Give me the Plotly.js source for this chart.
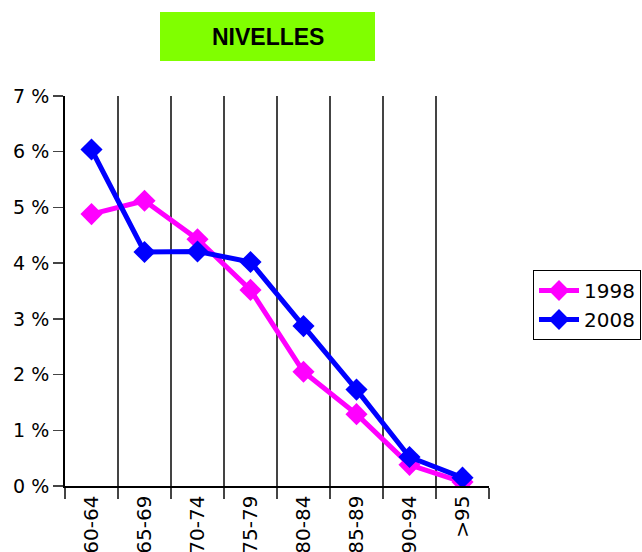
<!DOCTYPE html>
<html><head><meta charset="utf-8">
<script src="https://cdn.plot.ly/plotly-3.0.1.min.js"></script>
<style>html,body{margin:0;padding:0;background:#fff;}</style>
</head><body>
<div id="chart" style="width:642px;height:552px;"></div>
<script>
var categories = ["60-64","65-69","70-74","75-79","80-84","85-89","90-94",">95"];
var values1998 = [4.88, 5.12, 4.43, 3.52, 2.05, 1.29, 0.38, 0.07];
var values2008 = [6.04, 4.20, 4.21, 4.02, 2.87, 1.73, 0.52, 0.15];
var seriesNames = ["1998", "2008"];
var chartTitle = "NIVELLES";

var L = 65, R = 153, T = 96, B = 66, W = 642, H = 552;
var pw = W - L - R, ph = H - T - B;
function px(x){ return (x - L) / pw; }
function py(y){ return (H - B - y) / ph; }

var traces = [
  {x: categories, y: values1998, name: seriesNames[0], type: "scatter", mode: "lines+markers",
   line: {color: "#ff00ff", width: 5}, marker: {symbol: "diamond", size: 17, color: "#ff00ff"}},
  {x: categories, y: values2008, name: seriesNames[1], type: "scatter", mode: "lines+markers",
   line: {color: "#0000ff", width: 5}, marker: {symbol: "diamond", size: 17, color: "#0000ff"}}
];

var layout = {
  width: W, height: H,
  margin: {l: L, r: R, t: T, b: B, pad: 0, autoexpand: false},
  paper_bgcolor: "#fff", plot_bgcolor: "#fff",
  font: {family: "DejaVu Sans", size: 20, color: "#000"},
  showlegend: true,
  legend: {x: px(533), y: py(270), xanchor: "left", yanchor: "top",
           bordercolor: "#000", borderwidth: 1, bgcolor: "#fff",
           font: {family: "DejaVu Sans", size: 20, color: "#000"},
           tracegroupgap: 0, itemwidth: 40},
  xaxis: {type: "category", tickson: "boundaries", showgrid: true, gridcolor: "#444", gridwidth: 1.2,
          ticks: "outside", ticklen: 11, tickcolor: "#444", tickwidth: 1.2,
          showline: true, linecolor: "#000", linewidth: 1.5, tickangle: -90,
          range: [-0.5, 7.5], zeroline: false, fixedrange: true, automargin: false,
          tickfont: {family: "DejaVu Sans", size: 20, color: "#000"}},
  yaxis: {range: [0, 7], dtick: 1, tick0: 0, ticksuffix: " %", showgrid: false, zeroline: false,
          ticks: "outside", ticklen: 10, tickcolor: "#444", tickwidth: 1.5, automargin: false,
          showline: true, linecolor: "#000", linewidth: 2, fixedrange: true,
          tickfont: {family: "DejaVu Sans", size: 19, color: "#000"}},
  shapes: [
    {type: "rect", xref: "paper", yref: "paper", x0: px(160), x1: px(375), y0: py(61), y1: py(12),
     fillcolor: "#80ff00", line: {width: 0}, layer: "above"}
  ],
  annotations: [
    {text: "<b>" + chartTitle + "</b>", xref: "paper", yref: "paper", x: px(267.5), y: py(37),
     xanchor: "center", yanchor: "middle", showarrow: false,
     font: {family: "Liberation Sans", size: 23, color: "#000"}}
  ]
};

Plotly.newPlot("chart", traces, layout, {displayModeBar: false, staticPlot: true});
</script>
</body></html>
